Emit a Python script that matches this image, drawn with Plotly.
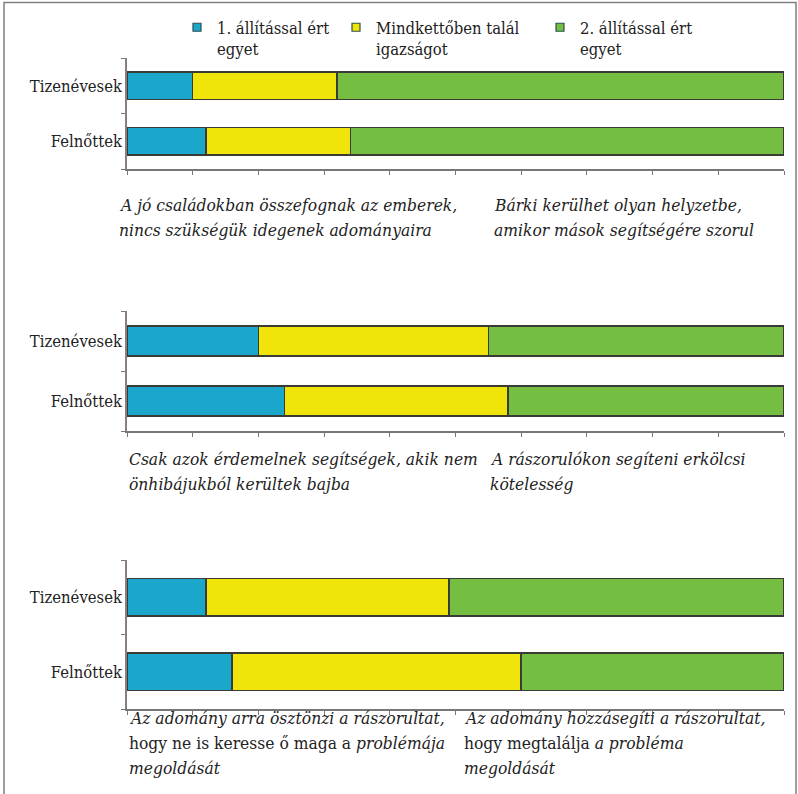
import plotly.graph_objects as go

# Answer shares (%) per statement pair, for teenagers and adults
groups = ["Felnőttek", "Tizenévesek"]
series_names = ["1. állítással ért<br>egyet", "Mindkettőben talál<br>igazságot", "2. állítással ért<br>egyet"]
series_colors = ["#1ba6cc", "#f0e40a", "#74bf42"]

teen_first = [10, 20, 12]
teen_both = [22, 35, 37]
teen_second = [68, 45, 51]

adult_first = [12, 24, 16]
adult_both = [22, 34, 44]
adult_second = [66, 42, 40]

# statement texts under each panel, one entry per printed line
left_captions = [
    ["<i>A jó családokban összefognak az emberek,</i>",
     "<i>nincs szükségük idegenek adományaira</i>"],
    ["<i>Csak azok érdemelnek segítségek, akik nem</i>",
     "<i>önhibájukból kerültek bajba</i>"],
    ["<i>Az adomány arra ösztönzi a rászorultat,</i>",
     "hogy ne is keresse ő maga a <i>problémája</i>",
     "<i>megoldását</i>"],
]
right_captions = [
    ["<i>Bárki kerülhet olyan helyzetbe,</i>",
     "<i>amikor mások segítségére szorul</i>"],
    ["<i>A rászorulókon segíteni erkölcsi</i>",
     "<i>kötelesség</i>"],
    ["<i>Az adomány hozzásegíti a rászorultat,</i>",
     "hogy megtalálja <i>a probléma</i>",
     "<i>megoldását</i>"],
]

W, H = 798, 794
FONT = "DejaVu Serif Condensed, DejaVu Serif"
CAP_SIZE = 17.3
LINE_STEP = 25

# panel geometry in pixels (top, bottom) and caption anchors (x, first line centre)
panel_px = [(58, 169), (311, 431), (560, 709)]
x_px = (127, 784)
left_cap = [(117, 205), (127, 459), (127, 718)]
right_cap = [(492, 205), (488, 459), (462, 718)]


def px_x(v):
    return v / W


def px_y(v):
    return 1 - v / H


fig = go.Figure()

for i in range(3):
    ax = "" if i == 0 else str(i + 1)
    series = [
        (teen_first[i], adult_first[i]),
        (teen_both[i], adult_both[i]),
        (teen_second[i], adult_second[i]),
    ]
    for k, (tv, av) in enumerate(series):
        fig.add_trace(go.Bar(
            orientation="h",
            y=groups,
            x=[av, tv],
            marker=dict(color=series_colors[k], line=dict(color="#3b3b35", width=1.5)),
            showlegend=False,
            xaxis="x" + ax,
            yaxis="y" + ax,
            hoverinfo="skip",
        ))

# legend swatches, each in its own legend box
legend_x = [177, 336, 540]
for k in range(3):
    lg = "legend" if k == 0 else "legend%d" % (k + 1)
    fig.add_trace(go.Scatter(
        x=[None], y=[None], mode="markers", name=series_names[k],
        marker=dict(symbol="square", size=8, color=series_colors[k],
                    line=dict(color="#2f4f4f", width=1.2)),
        legend=lg, showlegend=True, xaxis="x", yaxis="y",
    ))

layout = dict(
    width=W, height=H,
    margin=dict(l=0, r=0, t=0, b=0),
    paper_bgcolor="white",
    plot_bgcolor="white",
    barmode="stack",
    bargap=0.5,
    font=dict(family=FONT, size=16, color="#222"),
    showlegend=True,
)

for k in range(3):
    lg = "legend" if k == 0 else "legend%d" % (k + 1)
    layout[lg] = dict(
        x=px_x(legend_x[k]), y=px_y(10), xanchor="left", yanchor="top",
        bgcolor="rgba(0,0,0,0)", font=dict(family=FONT, size=16.5, color="#222"),
        valign="top", itemwidth=30,
    )

for i in range(3):
    ax = "" if i == 0 else str(i + 1)
    top, bot = panel_px[i]
    layout["xaxis" + ax] = dict(
        domain=[px_x(x_px[0]), px_x(x_px[1])],
        anchor="y" + ax,
        range=[0, 100], dtick=10, tick0=0,
        showticklabels=False, ticks="outside", ticklen=4, tickwidth=1.2,
        tickcolor="#777", showline=True, linecolor="#777", linewidth=1.5,
        showgrid=False, zeroline=False, fixedrange=True,
    )
    layout["yaxis" + ax] = dict(
        domain=[px_y(bot), px_y(top)],
        anchor="x" + ax,
        type="category", categoryorder="array", categoryarray=groups,
        tickson="boundaries", ticks="outside", ticklen=4, tickwidth=1.2,
        tickcolor="#777", showline=True, linecolor="#8a7f80", linewidth=1.5,
        showgrid=False, zeroline=False, fixedrange=True,
        tickfont=dict(family=FONT, size=16.5, color="#222"),
    )

fig.update_layout(**layout)

for i in range(3):
    for (cx, cy), lines in ((left_cap[i], left_captions[i]), (right_cap[i], right_captions[i])):
        for j, line in enumerate(lines):
            fig.add_annotation(
                x=px_x(cx), y=px_y(cy + j * LINE_STEP), xref="paper", yref="paper",
                xanchor="left", yanchor="middle", align="left", showarrow=False,
                text=line, font=dict(family=FONT, size=CAP_SIZE, color="#222"),
            )

# outer frame
fig.add_shape(type="rect", xref="paper", yref="paper",
              x0=px_x(4), x1=px_x(796), y0=-0.05, y1=px_y(2.5),
              line=dict(color="#808080", width=1.5), fillcolor="rgba(0,0,0,0)")

fig.write_html("out.html")
